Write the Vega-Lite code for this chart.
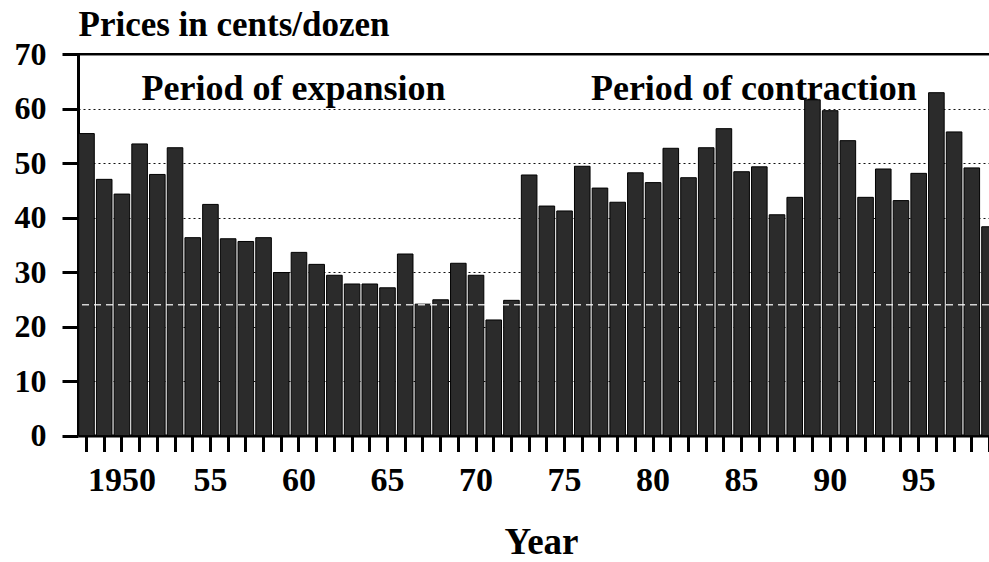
{
  "$schema": "https://vega.github.io/schema/vega-lite/v6.json",
  "width": 911,
  "height": 381.5,
  "autosize": {"type": "none"},
  "padding": {"left": 78, "top": 54, "right": 0, "bottom": 126.5},
  "background": "white",
  "config": {"view": {"stroke": null}, "font": "Liberation Serif"},
  "datasets": {
    "prices": [
      {"year": 1948, "price": 55.4}, {"year": 1949, "price": 47.0}, {"year": 1950, "price": 44.3},
      {"year": 1951, "price": 53.5}, {"year": 1952, "price": 47.9}, {"year": 1953, "price": 52.8},
      {"year": 1954, "price": 36.3}, {"year": 1955, "price": 42.4}, {"year": 1956, "price": 36.1},
      {"year": 1957, "price": 35.6}, {"year": 1958, "price": 36.3}, {"year": 1959, "price": 29.9},
      {"year": 1960, "price": 33.6}, {"year": 1961, "price": 31.4}, {"year": 1962, "price": 29.4},
      {"year": 1963, "price": 27.8}, {"year": 1964, "price": 27.8}, {"year": 1965, "price": 27.1},
      {"year": 1966, "price": 33.3}, {"year": 1967, "price": 24.1}, {"year": 1968, "price": 24.9},
      {"year": 1969, "price": 31.6}, {"year": 1970, "price": 29.4}, {"year": 1971, "price": 21.2},
      {"year": 1972, "price": 24.8}, {"year": 1973, "price": 47.8}, {"year": 1974, "price": 42.1},
      {"year": 1975, "price": 41.2}, {"year": 1976, "price": 49.4}, {"year": 1977, "price": 45.4},
      {"year": 1978, "price": 42.8}, {"year": 1979, "price": 48.2}, {"year": 1980, "price": 46.4},
      {"year": 1981, "price": 52.7}, {"year": 1982, "price": 47.3}, {"year": 1983, "price": 52.8},
      {"year": 1984, "price": 56.3}, {"year": 1985, "price": 48.4}, {"year": 1986, "price": 49.3},
      {"year": 1987, "price": 40.5}, {"year": 1988, "price": 43.7}, {"year": 1989, "price": 61.6},
      {"year": 1990, "price": 59.6}, {"year": 1991, "price": 54.1}, {"year": 1992, "price": 43.7},
      {"year": 1993, "price": 48.9}, {"year": 1994, "price": 43.1}, {"year": 1995, "price": 48.1},
      {"year": 1996, "price": 62.9}, {"year": 1997, "price": 55.7}, {"year": 1998, "price": 49.1},
      {"year": 1999, "price": 38.3}
    ],
    "notes": [
      {"year": 1960, "price": 61.5, "label": "Period of expansion"},
      {"year": 1986, "price": 61.5, "label": "Period of contraction"}
    ]
  },
  "layer": [
    {
      "data": {"name": "prices"},
      "mark": {"type": "bar", "fill": "#2b2b2b", "stroke": "black", "strokeWidth": 1, "clip": true},
      "encoding": {
        "x": {
          "field": "year",
          "type": "ordinal",
          "scale": {"range": [0, 920], "paddingInner": 0.12, "paddingOuter": 0.04},
          "axis": {
            "title": "Year",
            "titleFont": "Liberation Serif",
            "titleFontSize": 37,
            "titleFontWeight": "bold",
            "titleColor": "black",
            "titleAlign": "center",
            "titleBaseline": "alphabetic",
            "titleX": 463,
            "titleY": 118,
            "labelExpr": "datum.value == 1950 ? '1950' : (datum.value % 5 == 0 ? substring(toString(datum.value), 2) : '')",
            "labelAngle": 0,
            "labelOverlap": false,
            "labelBound": false,
            "labelFont": "Liberation Serif",
            "labelFontSize": 34,
            "labelFontWeight": "bold",
            "labelColor": "black",
            "labelPadding": 12,
            "tickSize": 16,
            "tickWidth": 3,
            "tickColor": "black",
            "domainColor": "black",
            "domainWidth": 3
          }
        },
        "y": {
          "field": "price",
          "type": "quantitative",
          "scale": {"domain": [0, 70], "nice": false},
          "axis": {
            "title": "Prices in cents/dozen",
            "titleAngle": 0,
            "titleAlign": "left",
            "titleBaseline": "alphabetic",
            "titleX": 0,
            "titleY": -19,
            "titleFont": "Liberation Serif",
            "titleFontSize": 35,
            "titleFontWeight": "bold",
            "titleColor": "black",
            "values": [0, 10, 20, 30, 40, 50, 60, 70],
            "labelFont": "Liberation Serif",
            "labelFontSize": 32,
            "labelFontWeight": "bold",
            "labelColor": "black",
            "labelPadding": 16,
            "tickSize": 16,
            "tickWidth": 3,
            "tickColor": "black",
            "domainColor": "black",
            "domainWidth": 3,
            "grid": true,
            "gridColor": "#111111",
            "gridDash": {"condition": {"test": "datum.value == 70", "value": []}, "value": [2, 3]},
            "gridWidth": {"condition": {"test": "datum.value == 70", "value": 2}, "value": 1}
          }
        }
      }
    },
    {
      "data": {"values": [{}]},
      "mark": {"type": "rule", "color": "black", "strokeWidth": 2},
      "encoding": {"y": {"datum": 70}}
    },
    {
      "data": {"values": [{}]},
      "mark": {"type": "rule", "color": "white", "strokeWidth": 1.5, "strokeDash": [7, 5], "opacity": 0.8},
      "encoding": {"y": {"datum": 24}}
    },
    {
      "data": {"name": "notes"},
      "mark": {"type": "text", "font": "Liberation Serif", "fontSize": 36, "fontWeight": "bold", "color": "black", "align": "center", "baseline": "alphabetic"},
      "encoding": {
        "x": {"field": "year", "type": "ordinal", "bandPosition": 0.15},
        "y": {"field": "price", "type": "quantitative"},
        "text": {"field": "label"}
      }
    }
  ]
}
